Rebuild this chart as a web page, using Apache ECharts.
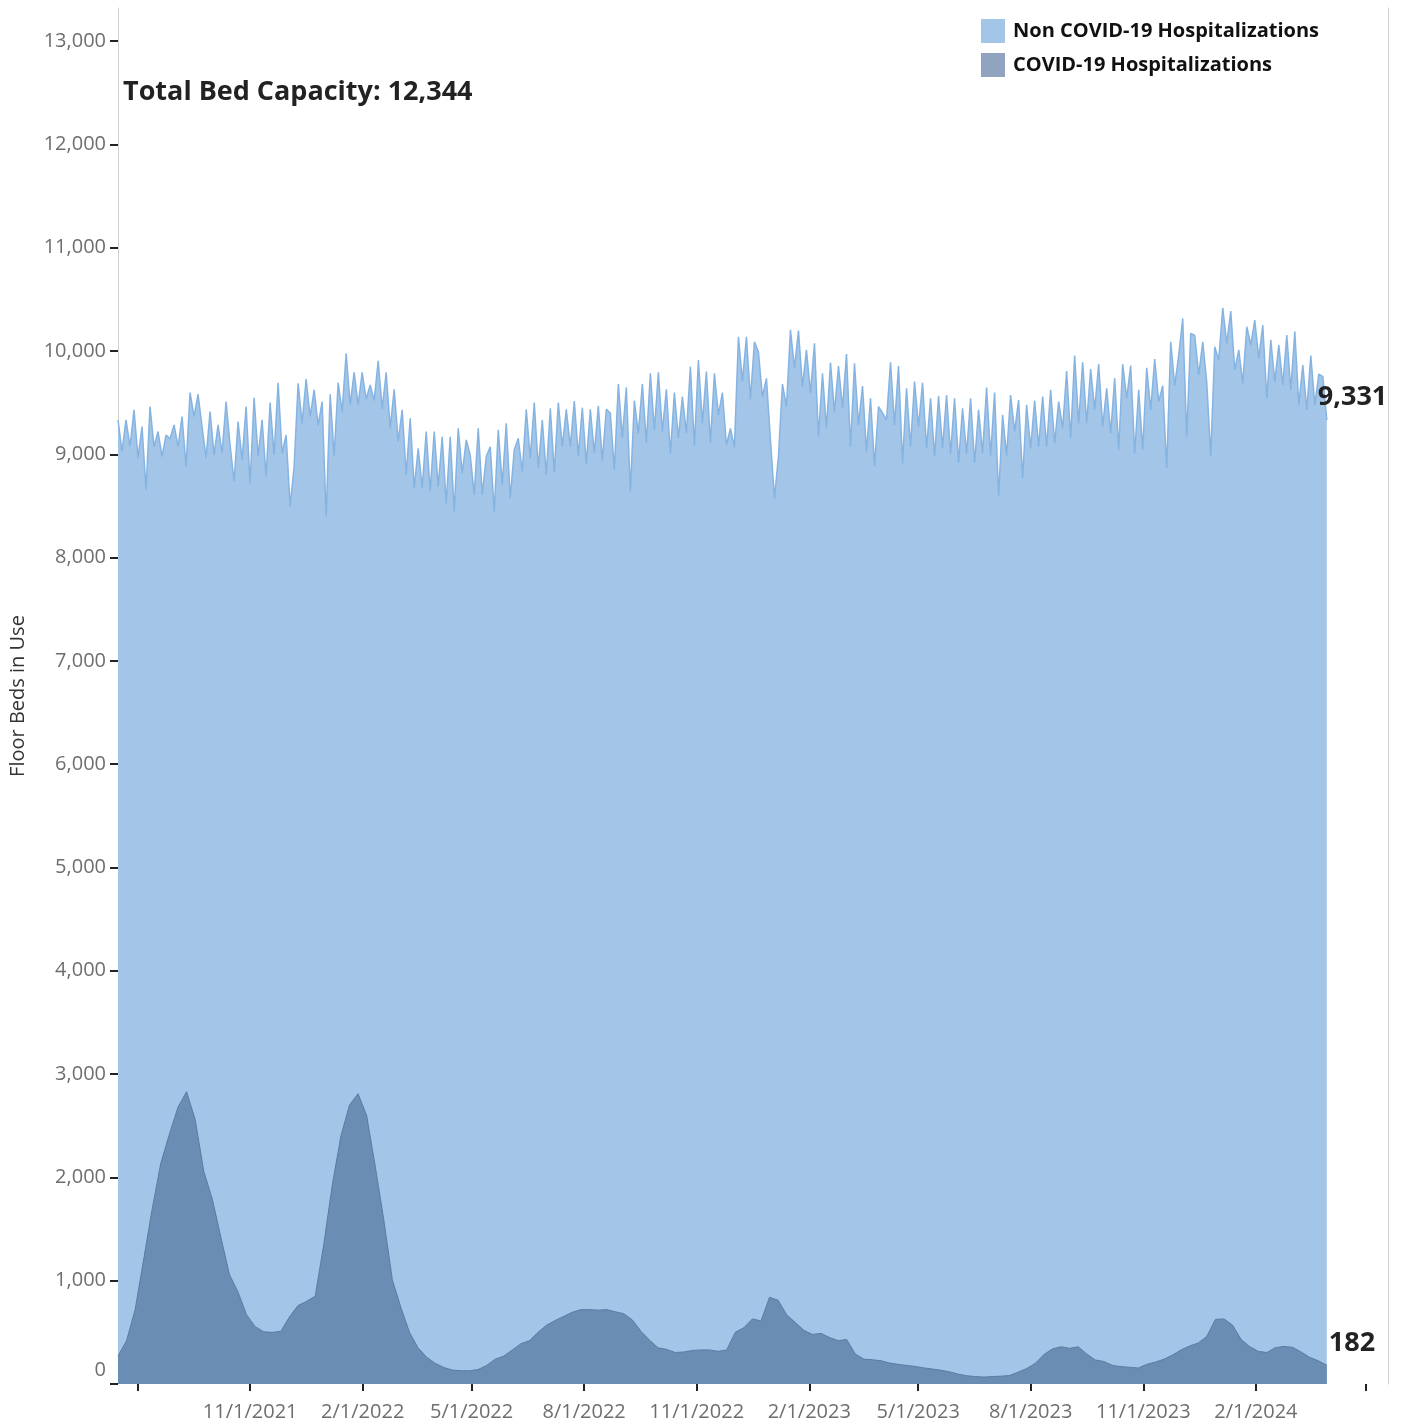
<!DOCTYPE html>
<html lang="en">
<head>
	<meta charset="utf-8" />
	<title>Floor Beds in Use</title>
	<style>
		html, body { margin: 0; padding: 0; background: #fff; }
		#chart { width: 1404px; height: 1426px; }
	</style>
</head>
<body>
	<div id="chart"></div>
	<script src="https://cdn.jsdelivr.net/npm/echarts@6/dist/echarts.min.js"></script>
	<script>
		// first and last day shown
		const firstDay = '2021-07-16';
		const lastDay = '2024-03-30';
		const axisStart = '2021-07-16';
		const axisEnd = '2024-05-19';
		const totalCapacity = 12344;

		// non covid floor beds, twice a week (weekday high / weekend low)
		const nonCovidBeds = [
			9333, 9026, 9333, 9073, 9430, 8965, 9268, 8656, 9462, 9073,
			9220, 8978, 9187, 9150, 9284, 9073, 9365, 8881, 9597, 9365,
			9581, 9268, 8965, 9413, 8993, 9284, 9010, 9510, 9090, 8736,
			9316, 8946, 9462, 8720, 9548, 8978, 9333, 8785, 9500, 8993,
			9693, 9010, 9187, 8494, 8881, 9687, 9302, 9729, 9365, 9623,
			9280, 9510, 8397, 9581, 8985, 9693, 9413, 9977, 9478, 9794,
			9478, 9794, 9535, 9671, 9520, 9905, 9438, 9794, 9252, 9629,
			9123, 9430, 8801, 9349, 8672, 9058, 8672, 9220, 8640,
			9220, 8688, 9170, 8526, 9170, 8445, 9252, 8816, 9139, 8993,
			8607, 9252, 8607, 8978, 9073, 8445, 9236, 8704, 9300, 8575,
			9043, 9155, 8833, 9436, 8962, 9500, 8865, 9333, 8801, 9446,
			8823, 9500, 9073, 9436, 9073, 9516, 8985, 9451, 8907, 9436,
			9010, 9468, 8938, 9436, 9400, 8849, 9680, 9164, 9648, 8640,
			9519, 9203, 9680, 9113, 9784, 9236, 9794, 9220, 9629, 9003,
			9597, 9155, 9558, 9203, 9848, 9080, 9912, 9300, 9800, 9106,
			9784, 9381, 9597, 9090, 9250, 9067, 10138, 9703,
			10138, 9533, 10089, 9990, 9558, 9735, 9139, 8575, 8978, 9680,
			9462, 10204, 9832, 10197, 9655, 10010, 9591, 10074, 9170, 9784,
			9252, 9887, 9407, 9854, 9446, 9970, 9073, 9880, 9284, 9661,
			9026, 9542, 8887, 9462, 9400, 9333, 9890, 9284, 9854, 8913,
			9639, 9073, 9703, 9268, 9693, 9058, 9542, 8978, 9564, 9058,
			9574, 9003, 9542, 8919, 9446, 9003, 9542, 8919, 9430, 9010,
			9645, 8986, 9597, 8591, 9381, 8986, 9574, 9220, 9526, 8768,
			9478, 9058, 9519, 9073,
			9558, 9073, 9623, 9106, 9510, 9252, 9806, 9155, 9955, 9300,
			9890, 9300, 9825, 9430, 9874, 9268, 9639, 9203, 9735, 9043,
			9874, 9542, 9858, 9010, 9623, 9043, 9838, 9430, 9922, 9510,
			9664, 8865, 10089, 9664, 9961, 10315, 9170, 10170, 10150, 9767,
			10089, 9700, 8978, 10041, 9912, 10418, 10074, 10386, 9816, 10010,
			9687, 10235, 10058, 10299, 9929, 10251, 9542, 10107, 9703, 10058,
			9671, 10155, 9623, 10187, 9478, 9864, 9430, 9955, 9478, 9777,
			9751, 9331
		];

		// covid floor beds, weekly
		const covidBeds = [
			270, 420, 720, 1210, 1700, 2140, 2420, 2680, 2830, 2560,
			2060, 1790, 1420, 1060, 890, 670, 555, 505, 500, 510,
			650, 760, 800, 850, 1350, 1930, 2400, 2700, 2810, 2600,
			2110, 1590, 1010, 740, 500, 350, 260, 200, 160, 135,
			128, 128, 140, 180, 240, 270, 330, 390, 420, 500,
			570, 615, 655, 695, 720, 720, 715, 720, 700, 680,
			620, 510, 425, 350, 335, 305, 310, 325, 330, 330,
			316, 330, 500, 545, 630, 610, 840, 810, 670, 595,
			520, 480, 490, 450, 420, 430, 290, 240, 235, 225,
			203, 190, 180, 170, 156, 145, 133, 118, 95, 80,
			72, 67, 72, 76, 82, 115, 150, 200, 285, 340,
			360, 345, 360, 290, 232, 218, 180, 168, 162, 155,
			190, 212, 240, 280, 330, 368, 397, 461, 625, 630,
			570, 432, 362, 316, 305, 352, 364, 355, 310, 258,
			225, 182
		];

		const tickDates = ['2021-08-01', '2021-11-01', '2022-02-01', '2022-05-01', '2022-08-01',
			'2022-11-01', '2023-02-01', '2023-05-01', '2023-08-01', '2023-11-01',
			'2024-02-01', '2024-05-01'];
		const yTicks = [0, 1000, 2000, 3000, 4000, 5000, 6000, 7000, 8000, 9000, 10000, 11000, 12000, 13000];

		function day(s) {
			const p = s.split('-');
			return new Date(+p[0], +p[1] - 1, +p[2]).getTime();
		}
		function spread(values) {
			const t0 = day(firstDay), t1 = day(lastDay);
			const step = (t1 - t0) / (values.length - 1);
			return values.map(function (v, i) { return [t0 + i * step, v]; });
		}
		function fmt(v) { return v.toLocaleString('en-US'); }

		const tickValues = tickDates.map(day);
		const labelValues = tickValues.slice(1, -1);

		const chart = echarts.init(document.getElementById('chart'));
		const font = '"Open Sans", "Noto Sans", sans-serif';

		chart.setOption({
			backgroundColor: '#fff',
			animation: false,
			textStyle: { fontFamily: font },
			title: {
				text: 'Total Bed Capacity: ' + fmt(totalCapacity),
				left: 123, top: 79, padding: 0,
				textStyle: { fontSize: 27, fontWeight: 'bold', color: '#222', fontFamily: font }
			},
			legend: {
				orient: 'vertical',
				left: 981, top: 19,
				padding: 0,
				icon: 'rect',
				itemWidth: 24, itemHeight: 24, itemGap: 10,
				textStyle: { fontSize: 20, fontWeight: 'bold', color: '#111', padding: [0, 0, 0, 3] },
				data: [
					{ name: 'Non COVID-19 Hospitalizations', itemStyle: { color: '#a3c5e8', borderWidth: 0 } },
					{ name: 'COVID-19 Hospitalizations', itemStyle: { color: '#90a4bf', borderWidth: 0 } }
				]
			},
			grid: { left: 118, right: 16, top: 8, bottom: 42 },
			xAxis: {
				type: 'value',
				min: day(axisStart),
				max: day(axisEnd),
				axisLine: { show: false },
				splitLine: { show: false },
				axisTick: { show: true, length: 7, lineStyle: { color: '#222', width: 2 }, customValues: tickValues },
				axisLabel: {
					customValues: labelValues,
					margin: 18,
					fontSize: 20,
					color: '#6e6e6e',
					formatter: function (v) {
						const d = new Date(v);
						return (d.getMonth() + 1) + '/' + d.getDate() + '/' + d.getFullYear();
					}
				}
			},
			yAxis: [{
				type: 'value',
				min: 0, max: 13320,
				name: 'Floor Beds in Use',
				nameLocation: 'middle',
				nameGap: 90,
				nameTextStyle: { fontSize: 20, color: '#333' },
				axisLine: { show: true, lineStyle: { color: '#cfcfcf', width: 1 } },
				axisTick: { show: true, length: 8, lineStyle: { color: '#222', width: 2 }, customValues: yTicks },
				splitLine: { show: false },
				axisLabel: {
					customValues: yTicks,
					margin: 12, fontSize: 20, color: '#6e6e6e',
					formatter: function (v) { return v === 0 ? '{z|0}' : fmt(v); },
					rich: { z: { fontSize: 20, color: '#6e6e6e', padding: [0, 0, 28, 0] } }
				}
			}, {
				type: 'value',
				position: 'right',
				min: 0, max: 13320,
				axisLine: { show: true, lineStyle: { color: '#cfcfcf', width: 1 } },
				axisTick: { show: false },
				axisLabel: { show: false },
				splitLine: { show: false }
			}],
			series: [{
				name: 'Non COVID-19 Hospitalizations',
				type: 'line',
				data: spread(nonCovidBeds),
				showSymbol: false,
				symbol: 'none',
				lineStyle: { color: '#86b4e2', width: 1.5 },
				itemStyle: { color: '#a3c5e8' },
				areaStyle: { color: '#a3c5e8', opacity: 1 },
				endLabel: {
					show: true,
					formatter: function (p) { return fmt(p.value[1]); },
					offset: [-17, -23],
					fontSize: 27, fontWeight: 'bold', color: '#222'
				}
			}, {
				name: 'COVID-19 Hospitalizations',
				type: 'line',
				data: spread(covidBeds),
				showSymbol: false,
				symbol: 'none',
				lineStyle: { color: '#5a7ca3', width: 1 },
				itemStyle: { color: '#90a4bf' },
				areaStyle: { color: '#6a8db3', opacity: 1 },
				endLabel: {
					show: true,
					formatter: function (p) { return fmt(p.value[1]); },
					offset: [-6, -22],
					fontSize: 27, fontWeight: 'bold', color: '#222'
				}
			}]
		});

		window.onresize = function () {
			chart.resize();
		};
	</script>
</body>
</html>
